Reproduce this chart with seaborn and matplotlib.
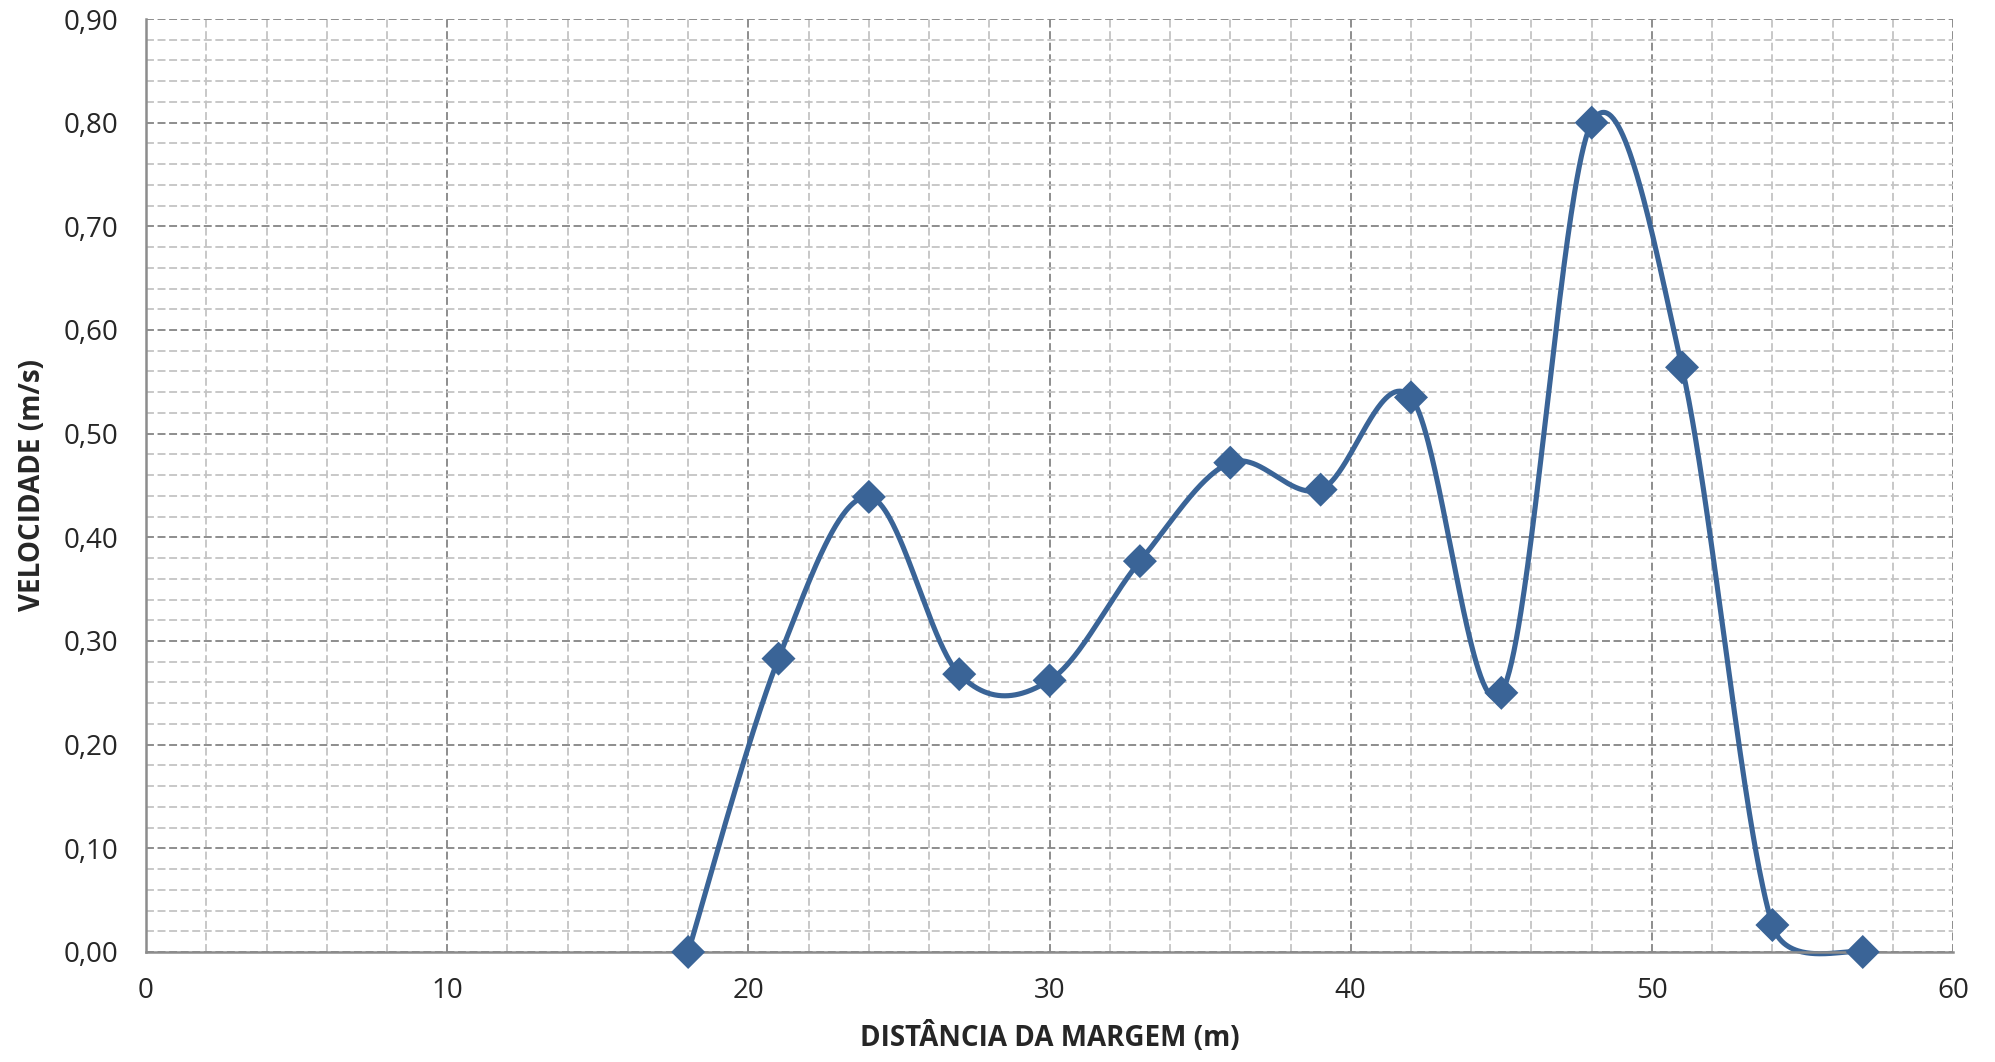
import numpy as np
import pandas as pd
import matplotlib
matplotlib.use("Agg")
import matplotlib.pyplot as plt
import matplotlib.patheffects as pe
from matplotlib.ticker import MultipleLocator, FuncFormatter
import seaborn as sns

# data
distancia = [18, 21, 24, 27, 30, 33, 36, 39, 42, 45, 48, 51, 54, 57]
velocidade = [0.0, 0.283, 0.439, 0.268, 0.262, 0.377, 0.472, 0.446,
              0.535, 0.250, 0.800, 0.564, 0.026, 0.0]

x_ticks = [0, 10, 20, 30, 40, 50, 60]
y_ticks = [0.0, 0.1, 0.2, 0.3, 0.4, 0.5, 0.6, 0.7, 0.8, 0.9]


def suaviza(xs, ys, sx, sy, n=80):
    # excel-style smoothed line: bezier, control arm 1/6 capped at half the segment
    P = np.column_stack([np.asarray(xs, float), np.asarray(ys, float)])
    S = P * np.array([sx, sy])
    m = len(P)

    def d(a, b):
        return np.hypot(*(S[b] - S[a]))

    px, py = [], []
    for i in range(m - 1):
        i0 = max(i - 1, 0)
        i3 = min(i + 2, m - 1)
        d12 = d(i, i + 1)
        d02 = d(i0, i + 1)
        d13 = d(i, i3)
        f1 = 1 / 6 if d02 / 6 < d12 / 2 else d12 / (2 * d02)
        f2 = 1 / 6 if d13 / 6 < d12 / 2 else d12 / (2 * d13)
        c1 = P[i] + (P[i + 1] - P[i0]) * f1
        c2 = P[i + 1] - (P[i3] - P[i]) * f2
        t = np.linspace(0, 1, n)[:, None]
        b = ((1 - t) ** 3) * P[i] + 3 * ((1 - t) ** 2) * t * c1 + 3 * (1 - t) * t ** 2 * c2 + t ** 3 * P[i + 1]
        px.extend(b[:, 0])
        py.extend(b[:, 1])
    return pd.DataFrame({"x": px, "y": py})


sns.set_style("white")
plt.rcParams["font.family"] = ["Open Sans", "DejaVu Sans"]

df = pd.DataFrame({"dist": distancia, "vel": velocidade})
# pixel scale of the axes, used for the smoothing
curva = suaviza(distancia, velocidade, 1807 / 60, 933 / 0.9)

fig = plt.figure(figsize=(19.95, 10.62), dpi=100)
ax = fig.add_axes([0.0732, 0.1036, 0.9058, 0.8785])

cor = "#3A6497"
sns.lineplot(data=curva, x="x", y="y", ax=ax, color=cor, linewidth=3.7,
             sort=False, estimator=None, clip_on=False)
sns.scatterplot(data=df, x="dist", y="vel", ax=ax, marker="D", s=300,
                color=cor, edgecolor=cor, linewidth=0, zorder=5, clip_on=False,
                path_effects=[pe.SimpleLineShadow(offset=(1.5, -2), alpha=0.3),
                              pe.Normal()])

ax.set_xlim(0, 60)
ax.set_ylim(0, 0.9)
ax.set_xticks(x_ticks)
ax.set_yticks(y_ticks)
ax.xaxis.set_minor_locator(MultipleLocator(2))
ax.yaxis.set_minor_locator(MultipleLocator(0.02))
ax.yaxis.set_major_formatter(FuncFormatter(lambda v, p: f"{v:.2f}".replace(".", ",")))

ax.grid(which="major", color="#858585", linestyle=(0, (4.4, 2)), linewidth=1.3)
ax.grid(which="minor", color="#c4c4c4", linestyle=(0, (4.4, 2)), linewidth=1.3)
ax.set_axisbelow(True)

for s in ["top", "right"]:
    ax.spines[s].set_visible(False)
for s in ["left", "bottom"]:
    ax.spines[s].set_color("#8c8c8c")
    ax.spines[s].set_linewidth(1.8)

ax.tick_params(axis="both", which="both", length=0, labelsize=20)
ax.tick_params(axis="x", pad=18)
ax.tick_params(axis="y", pad=20)

ax.set_xlabel("DISTÂNCIA DA MARGEM (m)", fontsize=20, fontweight="bold", labelpad=12)
ax.set_ylabel("VELOCIDADE (m/s)", fontsize=20, fontweight="bold", labelpad=12)

fig.savefig("out.png", dpi=100)
